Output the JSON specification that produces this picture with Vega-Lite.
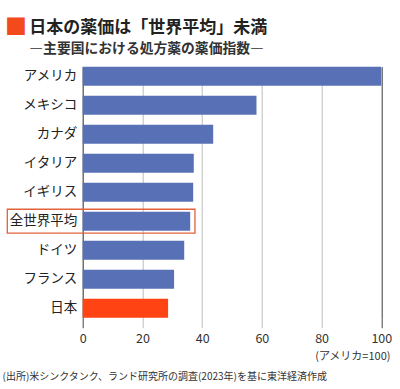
{
  "$schema": "https://vega.github.io/schema/vega-lite/v6.json",
  "autosize": {"type": "none"},
  "padding": {"left": 82.7, "top": 66.7, "right": 18.7, "bottom": 71.3},
  "width": 298.6,
  "height": 251,
  "background": "white",
  "config": {
    "font": "Noto Sans CJK JP",
    "view": {"stroke": null}
  },
  "title": {
    "text": "日本の薬価は「世界平均」未満",
    "subtitle": "   ―主要国における処方薬の薬価指数―",
    "anchor": "start",
    "frame": "group",
    "dx": -53.4,
    "offset": 0,
    "dy": 41,
    "font": "Noto Sans CJK JP",
    "fontSize": 17,
    "fontWeight": "bold",
    "color": "#222222",
    "subtitleFont": "Noto Sans CJK JP",
    "subtitleFontSize": 13.8,
    "subtitleFontWeight": "bold",
    "subtitleColor": "#333333",
    "subtitlePadding": 5
  },
  "data": {
    "values": [
      {"country": "アメリカ", "index": 100},
      {"country": "メキシコ", "index": 58.2},
      {"country": "カナダ", "index": 43.7},
      {"country": "イタリア", "index": 37.2},
      {"country": "イギリス", "index": 37.0},
      {"country": "全世界平均", "index": 36.0},
      {"country": "ドイツ", "index": 34.0},
      {"country": "フランス", "index": 30.6},
      {"country": "日本", "index": 28.6}
    ]
  },
  "resolve": {"axis": {"x": "independent", "y": "independent"}},
  "layer": [
    {
      "mark": {"type": "bar"},
      "encoding": {
        "y": {
          "field": "country",
          "type": "nominal",
          "scale": {
            "domain": ["アメリカ", "メキシコ", "カナダ", "イタリア", "イギリス", "全世界平均", "ドイツ", "フランス", "日本"],
            "paddingInner": 0.345,
            "paddingOuter": 0
          },
          "axis": {
            "title": "■",
            "titleColor": "#f24a1a",
            "titleFontSize": 22,
            "titleFont": "Noto Sans CJK JP",
            "titleAngle": 0,
            "titleAlign": "center",
            "titleBaseline": "middle",
            "titleX": -67.2,
            "titleY": -40,
            "ticks": false,
            "domain": true,
            "domainColor": "#444444",
            "domainWidth": 1,
            "labelPadding": 6,
            "labelFontSize": 13.5,
            "labelColor": "#222222",
            "labelFont": "Noto Sans CJK JP"
          }
        },
        "x": {
          "field": "index",
          "type": "quantitative",
          "scale": {"domain": [0, 100], "nice": false},
          "axis": {
            "values": [0, 20, 40, 60, 80, 100],
            "domain": false,
            "grid": true,
            "gridColor": {"condition": {"test": "datum.value === 100", "value": "#3a3a3a"}, "value": "#bdbdbd"},
            "gridWidth": 1,
            "tickSize": 10,
            "tickColor": {"condition": {"test": "datum.value === 0 || datum.value === 100", "value": "#444444"}, "value": "#bdbdbd"},
            "labelFlush": false,
            "labelFontSize": 12.5,
            "labelColor": "#333333",
            "labelFont": "Noto Sans CJK JP",
            "labelPadding": 5,
            "title": "(アメリカ=100)",
            "titleFontSize": 11,
            "titleFontWeight": "normal",
            "titleColor": "#333333",
            "titleFont": "Noto Sans CJK JP",
            "titleAlign": "right",
            "titleBaseline": "middle",
            "titleAnchor": "end",
            "titleX": 307.3,
            "titleY": 39
          }
        },
        "color": {
          "condition": {"test": "datum.country === '日本'", "value": "#ff4312"},
          "value": "#5870b6"
        }
      }
    },
    {
      "transform": [{"filter": "datum.country === '全世界平均'"}],
      "mark": {"type": "bar", "fill": "transparent", "stroke": "#e2623a", "strokeWidth": 1.3, "height": {"band": 1.26}},
      "encoding": {
        "y": {"field": "country", "type": "nominal", "axis": null},
        "x": {
          "datum": -25.25,
          "type": "quantitative",
          "axis": {
            "orient": "top",
            "labels": false,
            "ticks": false,
            "grid": false,
            "domain": false,
            "title": "(出所)米シンクタンク、ランド研究所の調査(2023年)を基に東洋経済作成",
            "titleFontSize": 10,
            "titleFontWeight": "normal",
            "titleColor": "#333333",
            "titleFont": "Noto Sans CJK JP",
            "titleAlign": "left",
            "titleBaseline": "middle",
            "titleAnchor": "start",
            "titleX": -80.7,
            "titleY": 309.3
          }
        },
        "x2": {"datum": 37.6}
      }
    }
  ]
}
